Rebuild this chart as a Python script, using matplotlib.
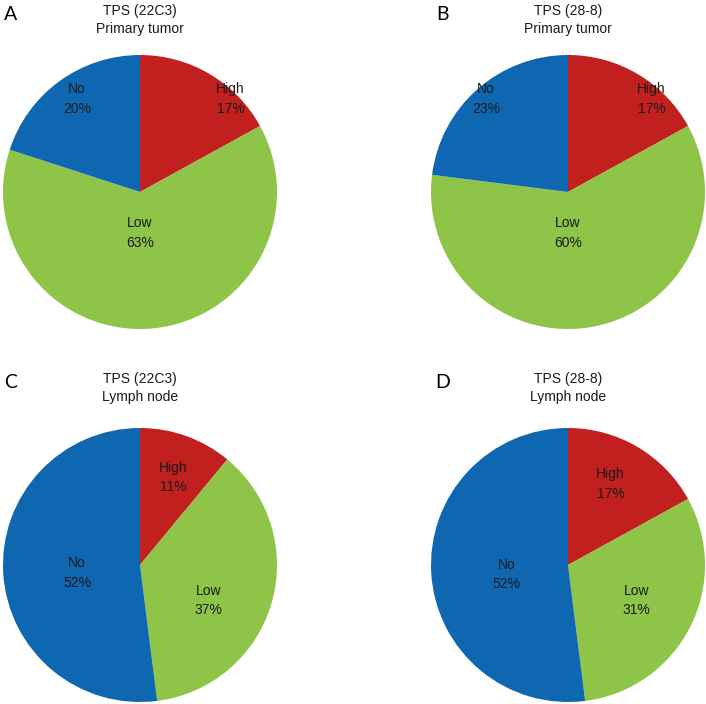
import matplotlib

matplotlib.use("Agg")

import matplotlib.pyplot as plt

plt.rcParams["font.family"] = ["Liberation Sans", "DejaVu Sans"]

# data
CATEGORIES = ["High", "Low", "No"]
PANEL_LETTERS = ["A", "B", "C", "D"]
ANTIBODIES = ["TPS (22C3)", "TPS (28-8)", "TPS (22C3)", "TPS (28-8)"]
SITES = ["Primary tumor", "Primary tumor", "Lymph node", "Lymph node"]

SHARES_A = [17, 63, 20]
SHARES_B = [17, 60, 23]
SHARES_C = [11, 37, 52]
SHARES_D = [17, 31, 52]

SLICE_COLORS = ["#C1201F", "#8EC549", "#0F67B1"]
LABEL_COLOR = "#1A1A1A"

W, H = 706, 704
RADIUS = 137

# layout in pixels: pie centres, label offsets (in pie radii)
CENTERS = [(140, 192), (568, 192), (140, 565), (568, 565)]
LABEL_OFFSETS = [
    [(0.66, 0.68), (0.0, -0.30), (-0.46, 0.68)],
    [(0.61, 0.68), (0.0, -0.30), (-0.60, 0.68)],
    [(0.24, 0.64), (0.50, -0.26), (-0.46, -0.06)],
    [(0.31, 0.59), (0.50, -0.26), (-0.45, -0.07)],
]
TITLE_Y = [20, 20, 388, 388]
LETTER_POS = [(11, 15), (443, 15), (11, 382), (443, 382)]


def fx(px):
    return px / W


def fy(py):
    return 1 - py / H


figure = plt.figure(figsize=(W / 100, H / 100), dpi=100)
figure.patch.set_facecolor("white")

all_shares = [SHARES_A, SHARES_B, SHARES_C, SHARES_D]

for index, shares in enumerate(all_shares):
    cx, cy = CENTERS[index]
    axis = figure.add_axes(
        [fx(cx - RADIUS), fy(cy + RADIUS), 2 * RADIUS / W, 2 * RADIUS / H]
    )
    axis.pie(
        shares,
        colors=SLICE_COLORS,
        startangle=90,
        counterclock=False,
        radius=1,
        wedgeprops={"linewidth": 0, "edgecolor": "none", "antialiased": True},
    )
    axis.set_xlim(-1, 1)
    axis.set_ylim(-1, 1)
    axis.set_aspect("equal")
    axis.axis("off")

    for name, value, (dx, dy) in zip(CATEGORIES, shares, LABEL_OFFSETS[index]):
        axis.text(
            dx,
            dy,
            f"{name}\n{value}%",
            ha="center",
            va="center",
            fontsize=10,
            linespacing=1.5,
            color=LABEL_COLOR,
        )

    figure.text(
        fx(cx),
        fy(TITLE_Y[index]),
        f"{ANTIBODIES[index]}\n{SITES[index]}",
        ha="center",
        va="center",
        fontsize=10,
        linespacing=1.35,
        color=LABEL_COLOR,
    )

    lx, ly = LETTER_POS[index]
    figure.text(
        fx(lx),
        fy(ly),
        PANEL_LETTERS[index],
        ha="center",
        va="center",
        fontsize=14,
        family=["Lato", "DejaVu Sans"],
        color="black",
    )

figure.savefig("out.png", dpi=100, facecolor="white")
plt.close(figure)
